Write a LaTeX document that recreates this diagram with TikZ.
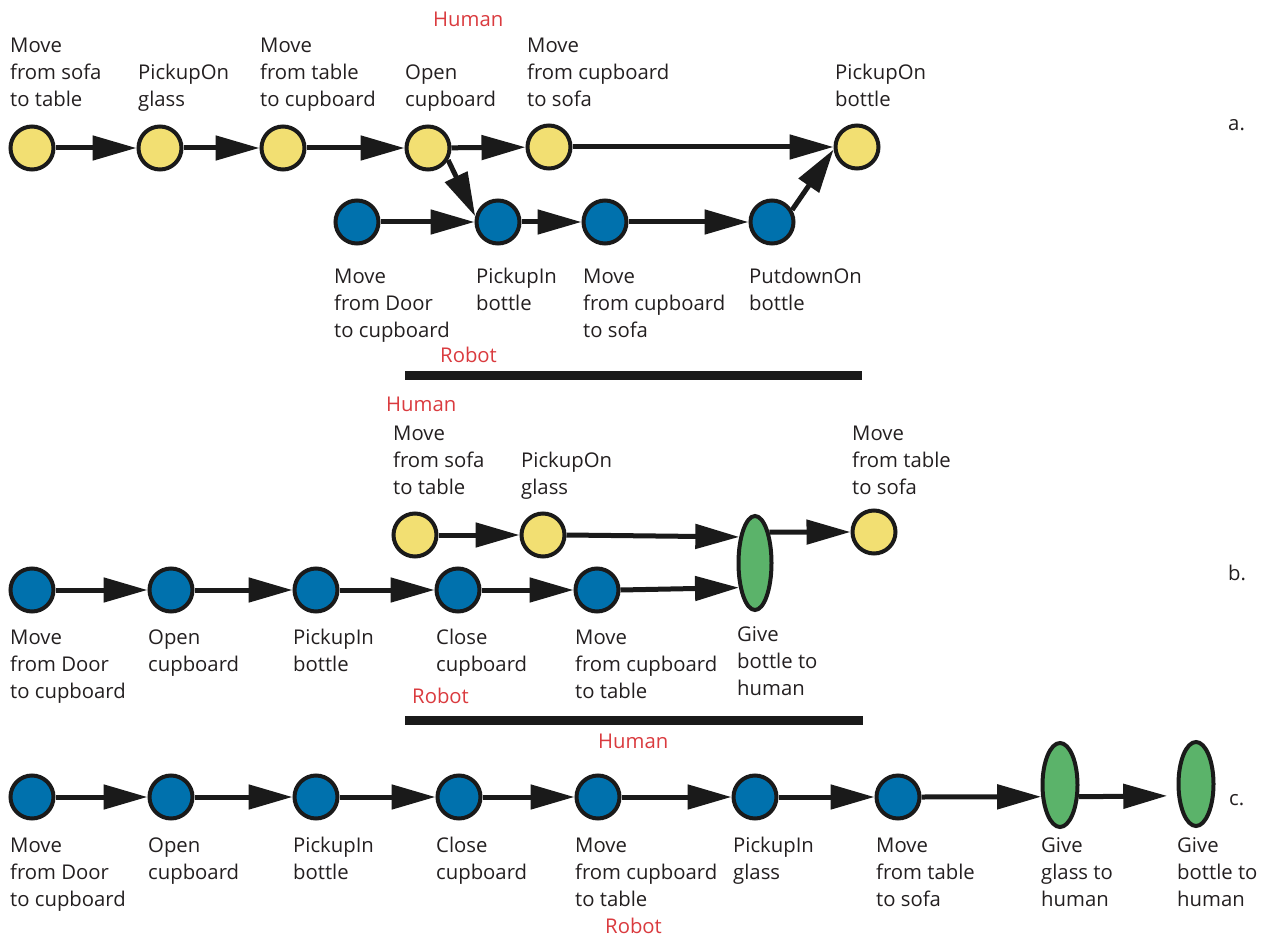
\documentclass[tikz,border=0pt]{standalone}
\usepackage{fontspec}
\setmainfont{Open Sans}
\usetikzlibrary{arrows.meta,shapes.geometric}
\definecolor{yel}{RGB}{242,223,114}
\definecolor{blu}{RGB}{0,113,173}
\definecolor{grn}{RGB}{91,179,106}
\definecolor{redc}{RGB}{218,59,63}
\definecolor{ink}{RGB}{26,26,26}
\definecolor{txt}{RGB}{35,31,32}
\newcommand\lblfont{\fontsize{20.3}{27.2}\selectfont}
\begin{document}
\begin{tikzpicture}[x=1pt,y=-1pt,
  st/.style={circle, draw=ink, line width=4pt, minimum size=43pt, inner sep=0pt},
  hum/.style={st, fill=yel},
  rob/.style={st, fill=blu},
  give/.style={ellipse, draw=ink, line width=4pt, fill=grn, inner sep=0pt},
  arr/.style={line width=5pt, draw=ink, -{Triangle[length=44pt,width=24pt]}},
  lbl/.style={anchor=north west, yshift=19.04pt, align=left, inner sep=0pt, font=\lblfont, text=txt},
  who/.style={anchor=base west, inner sep=0pt, font=\lblfont, text=redc},
  tag/.style={anchor=base west, inner sep=0pt, font=\lblfont, text=txt},
  bar/.style={line width=9pt, draw=ink}]
\useasboundingbox (0,0) rectangle (1266,936);

% ---------------- a ----------------
\node[hum] (ya1) at (32,148) {};
\node[hum] (ya2) at (160,148) {};
\node[hum] (ya3) at (283,148) {};
\node[hum] (ya4) at (428,148) {};
\node[hum] (ya5) at (549,147) {};
\node[hum] (ya6) at (857,147) {};
\node[rob] (ba1) at (357,222) {};
\node[rob] (ba2) at (498,222) {};
\node[rob] (ba3) at (605,222) {};
\node[rob] (ba4) at (772,222) {};

\draw[arr] (ya1) -- (ya2);
\draw[arr] (ya2) -- (ya3);
\draw[arr] (ya3) -- (ya4);
\draw[arr] (ya4) -- (ya5);
\draw[arr] (ya5) -- (ya6);
\draw[arr] (ya4.-31) -- (ba2.166);
\draw[arr] (ba1) -- (ba2);
\draw[arr] (ba2) -- (ba3);
\draw[arr] (ba3) -- (ba4);
\draw[arr] (ba4.31) -- (ya6.186);

\node[lbl] (lya1) at (10,52) {\strut Move\\from sofa\\to table};
\node[lbl] (lya2) at (138,79) {\strut PickupOn\\glass};
\node[lbl] (lya3) at (260,52) {\strut Move\\from table\\to cupboard};
\node[lbl] (lya4) at (405,79) {\strut Open\\cupboard};
\node[lbl] (lya5) at (527,52) {\strut Move\\from cupboard\\to sofa};
\node[lbl] (lya6) at (835,79) {\strut PickupOn\\bottle};
\node[who] (huma) at (433,27) {Human};
\node[tag] (taga) at (1228,131) {a.};

\node[lbl] (lba1) at (334,283) {\strut Move\\from Door\\to cupboard};
\node[lbl] (lba2) at (476,283) {\strut PickupIn\\bottle};
\node[lbl] (lba3) at (583,283) {\strut Move\\from cupboard\\to sofa};
\node[lbl] (lba4) at (749,283) {\strut PutdownOn\\bottle};
\node[who] (roba) at (440,362) {Robot};
\draw[bar] (405,375.5) -- (862,375.5);

% ---------------- b ----------------
\node[hum] (yb1) at (415,535) {};
\node[hum] (yb2) at (543,535) {};
\node[hum] (yb3) at (874,532) {};
\node[give, minimum width=33pt, minimum height=94pt] (gb) at (755,563) {};
\node[rob] (bb1) at (32,590) {};
\node[rob] (bb2) at (171,590) {};
\node[rob] (bb3) at (316,590) {};
\node[rob] (bb4) at (458,590) {};
\node[rob] (bb5) at (597,590) {};

\draw[arr] (yb1) -- (yb2);
\draw[arr] (yb2.east) -- (gb.121.6);
\draw[arr] (gb.65) -- (yb3.west);
\draw[arr] (bb1) -- (bb2);
\draw[arr] (bb2) -- (bb3);
\draw[arr] (bb3) -- (bb4);
\draw[arr] (bb4) -- (bb5);
\draw[arr] (bb5.east) -- (gb.237.5);

\node[who] (humb) at (386,411) {Human};
\node[lbl] (lyb1) at (393,440) {\strut Move\\from sofa\\to table};
\node[lbl] (lyb2) at (521,467) {\strut PickupOn\\glass};
\node[lbl] (lyb3) at (852,440) {\strut Move\\from table\\to sofa};
\node[lbl] (lbb1) at (10,644) {\strut Move\\from Door\\to cupboard};
\node[lbl] (lbb2) at (148,644) {\strut Open\\cupboard};
\node[lbl] (lbb3) at (293,644) {\strut PickupIn\\bottle};
\node[lbl] (lbb4) at (436,644) {\strut Close\\cupboard};
\node[lbl] (lbb5) at (575,644) {\strut Move\\from cupboard\\to table};
\node[lbl] (lgb) at (737,641) {\strut Give\\bottle to\\human};
\node[who] (robb) at (412,703) {Robot};
\node[tag] (tagb) at (1228,580) {b.};
\draw[bar] (405,720) -- (863,720);
\node[who] (humc) at (598,748) {Human};

% ---------------- c ----------------
\node[rob] (c1) at (32,797) {};
\node[rob] (c2) at (171,797) {};
\node[rob] (c3) at (316,797) {};
\node[rob] (c4) at (459,797) {};
\node[rob] (c5) at (598,797) {};
\node[rob] (c6) at (755,797) {};
\node[rob] (c7) at (898,797) {};
\node[give, minimum width=35pt, minimum height=84pt] (cg1) at (1060,785) {};
\node[give, minimum width=35pt, minimum height=84pt] (cg2) at (1196,784) {};

\draw[arr] (c1) -- (c2);
\draw[arr] (c2) -- (c3);
\draw[arr] (c3) -- (c4);
\draw[arr] (c4) -- (c5);
\draw[arr] (c5) -- (c6);
\draw[arr] (c6) -- (c7);
\draw[arr] (c7.east) -- (cg1.212.5);
\draw[arr, shorten >=10pt] (cg1.-32.5) -- (cg2.-148);

\node[lbl] (lc1) at (10,852) {\strut Move\\from Door\\to cupboard};
\node[lbl] (lc2) at (148,852) {\strut Open\\cupboard};
\node[lbl] (lc3) at (293,852) {\strut PickupIn\\bottle};
\node[lbl] (lc4) at (436,852) {\strut Close\\cupboard};
\node[lbl] (lc5) at (575,852) {\strut Move\\from cupboard\\to table};
\node[lbl] (lc6) at (733,852) {\strut PickupIn\\glass};
\node[lbl] (lc7) at (876,852) {\strut Move\\from table\\to sofa};
\node[lbl] (lcg1) at (1041,852) {\strut Give\\glass to\\human};
\node[lbl] (lcg2) at (1177,852) {\strut Give\\bottle to\\human};
\node[who] (robc) at (605,933) {Robot};
\node[tag] (tagc) at (1229,805) {c.};
\end{tikzpicture}
\end{document}
